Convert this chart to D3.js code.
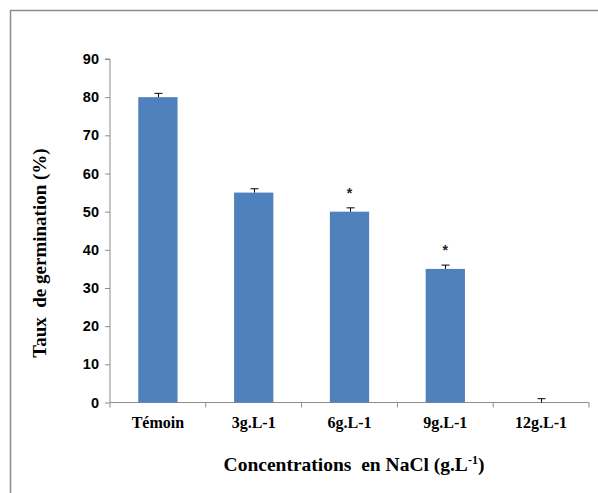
<!DOCTYPE html>
<html><head><meta charset="utf-8">
<script src="https://cdn.jsdelivr.net/npm/d3@7"></script>
<style>body{margin:0;background:#fff}</style>
</head><body>
<svg id="c" width="598" height="493"></svg>
<script>
const categories = ["Témoin","3g.L-1","6g.L-1","9g.L-1","12g.L-1"];
const values = [80, 55, 50, 35, 0];
const errors = [1, 1, 1, 1, 1];
const stars = ["", "", "*", "*", ""];
const yTicks = [0,10,20,30,40,50,60,70,80,90];

const svg = d3.select("#c");
svg.append("path").attr("d","M10.5,493 L10.5,10.5 L598,10.5").attr("fill","none").attr("stroke","#8c8c8c").attr("stroke-width",1.5);

const x = d3.scaleBand().domain(categories).range([110,589]).paddingInner(0).paddingOuter(0);
const y = d3.scaleLinear().domain([0,90]).range([402.5,59]);

const ya = svg.append("g").attr("transform","translate(110,0)")
  .call(d3.axisLeft(y).tickValues(yTicks).tickSize(5).tickPadding(6));
ya.select(".domain").attr("stroke","#8c8c8c").attr("d","M-5,"+y(90)+"H0V"+y(0));
ya.selectAll(".tick line").attr("stroke","#8c8c8c");
ya.selectAll("text").attr("font-family","Liberation Sans, Arial, sans-serif").attr("font-weight","bold").attr("font-size",14.5).attr("fill","#000");

const xa = svg.append("g").attr("transform","translate(0,402.5)");
xa.append("line").attr("x1",110).attr("x2",589).attr("stroke","#8c8c8c");
const edges = categories.map(c=>x(c)).concat([x(categories[categories.length-1])+x.bandwidth()]);
xa.selectAll("line.t").data(edges).enter().append("line").attr("class","t")
  .attr("x1",d=>d).attr("x2",d=>d).attr("y1",0).attr("y2",5).attr("stroke","#8c8c8c");
xa.selectAll("text").data(categories).enter().append("text")
  .attr("x",d=>x(d)+x.bandwidth()/2).attr("y",25).attr("text-anchor","middle")
  .attr("font-family","Liberation Serif, Times New Roman, serif").attr("font-weight","bold").attr("font-size",16).text(d=>d);

const bw = x.bandwidth()*0.41;
svg.selectAll("rect.bar").data(values).enter().append("rect").attr("class","bar")
  .attr("x",(d,i)=>x(categories[i])+x.bandwidth()/2-bw/2)
  .attr("y",d=>y(d)).attr("width",bw).attr("height",d=>y(0)-y(d))
  .attr("fill","#4f81bd");

const eg = svg.append("g").attr("stroke","#000").attr("stroke-width",1);
values.forEach((v,i)=>{
  const cx = Math.round(x(categories[i])+x.bandwidth()/2)+0.5;
  eg.append("line").attr("x1",cx).attr("x2",cx).attr("y1",y(v)).attr("y2",y(v+errors[i]));
  eg.append("line").attr("x1",cx-4).attr("x2",cx+4).attr("y1",y(v+errors[i])).attr("y2",y(v+errors[i]));
});

svg.selectAll("text.star").data(stars).enter().append("text").attr("class","star")
  .attr("x",(d,i)=>x(categories[i])+x.bandwidth()/2).attr("y",(d,i)=>y(values[i]+errors[i])-10)
  .attr("text-anchor","middle").attr("font-family","Liberation Sans, Arial, sans-serif")
  .attr("font-weight","bold").attr("font-size",14).attr("fill","#222").text(d=>d);

svg.append("text").attr("transform","translate(46,253) rotate(-90)").attr("text-anchor","middle")
  .attr("font-family","Liberation Serif, Times New Roman, serif").attr("font-weight","bold").attr("font-size",19)
  .attr("xml:space","preserve").text("Taux  de germination (%)");

const xt = svg.append("text").attr("x",354).attr("y",471).attr("text-anchor","middle")
  .attr("font-family","Liberation Serif, Times New Roman, serif").attr("font-weight","bold").attr("font-size",19.5)
  .attr("xml:space","preserve");
xt.append("tspan").text("Concentrations  en NaCl (g.L");
xt.append("tspan").attr("font-size",12).attr("dy",-7).text("-1");
xt.append("tspan").attr("dy",7).text(")");
</script>
</body></html>
